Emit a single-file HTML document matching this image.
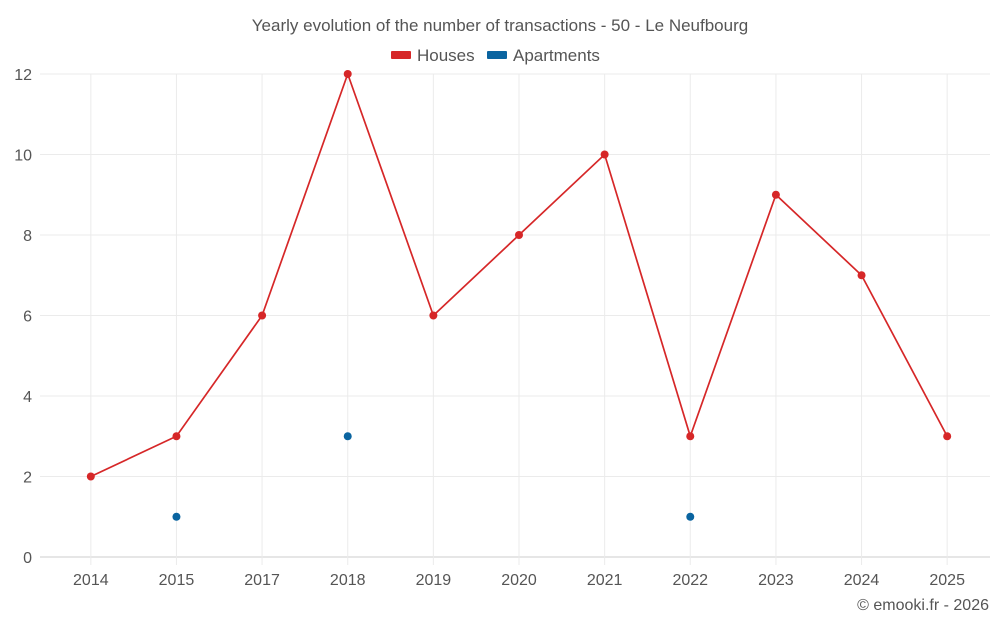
<!DOCTYPE html>
<html><head><meta charset="utf-8"><style>
html,body{margin:0;padding:0;background:#fff;}
svg{display:block;font-family:"Liberation Sans",sans-serif;}
</style></head><body>
<svg id="chart" width="1000" height="625">
<text x="500" y="31" text-anchor="middle" font-size="17" fill="#555">Yearly evolution of the number of transactions - 50 - Le Neufbourg</text>
<g>
<g><rect x="391" y="51" width="20" height="8" rx="1" fill="#d62728"/><text x="417" y="61" font-size="17" fill="#555">Houses</text></g>
<g><rect x="487" y="51" width="20" height="8" rx="1" fill="#0a64a0"/><text x="513" y="61" font-size="17" fill="#555">Apartments</text></g>
</g>
<g id="grid"></g>
<g id="axes"></g>
<g id="series"></g>
<text x="989" y="610" text-anchor="end" font-size="16" fill="#555">© emooki.fr - 2026</text>
</svg>
<script>
const categories=["2014","2015","2017","2018","2019","2020","2021","2022","2023","2024","2025"];
const houses=[2,3,6,12,6,8,10,3,9,7,3];
const apartments=[null,1,null,3,null,null,null,1,null,null,null];
const yTicks=[0,2,4,6,8,10,12];
const NS="http://www.w3.org/2000/svg";
const L=48,R=990,T=74,B=557,yMax=12;
const bw=(R-L)/categories.length;
const x=i=>L+bw*(i+0.5);
const y=v=>B-(v/yMax)*(B-T);
function mk(tag,attrs,parent){const e=document.createElementNS(NS,tag);for(const k in attrs)e.setAttribute(k,attrs[k]);parent.appendChild(e);return e;}
const grid=document.getElementById('grid'),axes=document.getElementById('axes'),series=document.getElementById('series');
yTicks.forEach(t=>{
 const ln=mk('line',{x1:40,x2:R,y1:y(t),y2:y(t),stroke:t===0?'#ccc':'#ebebeb','stroke-width':1},grid);
 
 
 const tx=mk('text',{x:32,y:y(t)+6,'text-anchor':'end','font-size':16,fill:'#555'},axes);
 tx.textContent=t;
 
 
});
categories.forEach((c,i)=>{
 const ln=mk('line',{x1:x(i),x2:x(i),y1:T,y2:B+8,stroke:'#ebebeb','stroke-width':1},grid);
 
 
 const tx=mk('text',{x:x(i),y:585,'text-anchor':'middle','font-size':16,fill:'#555'},axes);
 tx.textContent=c;
 
 
});
const pl=mk('polyline',{points:houses.map((v,i)=>x(i)+','+y(v)).join(' '),fill:'none',stroke:'#d62728','stroke-width':1.7},series);


houses.forEach((v,i)=>{
 const c=mk('circle',{cx:x(i),cy:y(v),r:4,fill:'#d62728'},series);
 
 
});
apartments.forEach((v,i)=>{
 if(v===null)return;
 const c=mk('circle',{cx:x(i),cy:y(v),r:4,fill:'#0a64a0'},series);
 
 
});
</script>
</body></html>
